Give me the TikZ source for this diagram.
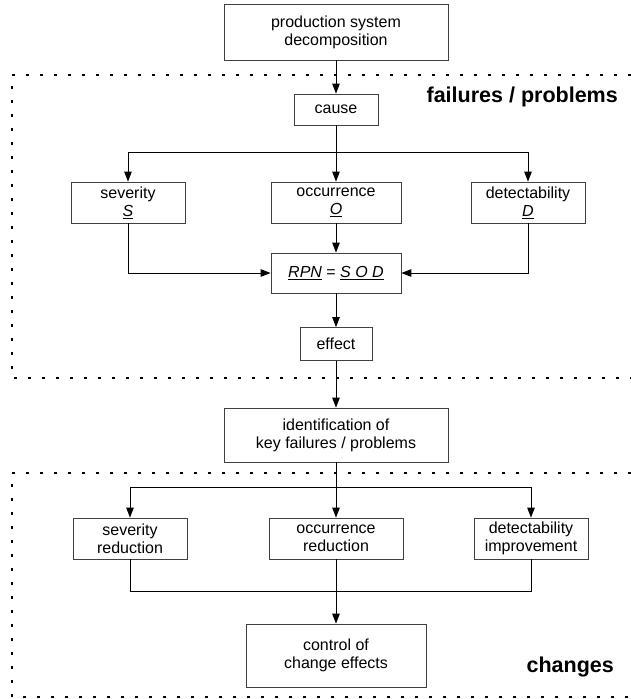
\documentclass[tikz,border=0pt]{standalone}
\usepackage{fontspec}
\setmainfont{Liberation Sans}
\usetikzlibrary{arrows.meta}
\tikzset{
  box/.style={draw=black!75, line width=0.8pt, fill=white, align=center, inner sep=0pt,
    font=\fontsize{16}{18}\selectfont},
  conn/.style={line width=1pt, draw=black},
  arr/.style={conn, -{Triangle[length=10pt,width=7.5pt]}},
  dots/.style={line width=2.8pt, draw=black, dash pattern=on 2.8pt off 11.2pt},
  lbl/.style={font=\fontsize{21.5}{23}\selectfont\bfseries, inner sep=0pt}
}
\begin{document}
\begin{tikzpicture}[x=1pt,y=1pt]
\useasboundingbox (0,0) rectangle (630,-699);
% dotted frames
\draw[dots] (631,-75) -- (12,-75) -- (12,-378) -- (631,-378);
\draw[dots] (631,-473) -- (12,-473) -- (12,-697) -- (631,-697);
% labels
\node[lbl, anchor=base east] (lf) at (618,-102) {failures / problems};
\node[lbl, anchor=base east] (lc) at (614,-672) {changes};
% nodes
\node[box, minimum width=224, minimum height=56] (prod) at (336,-32) {production system\\decomposition};
\node[box, minimum width=84, minimum height=31] (cause) at (336,-109.5) {cause};
\node[box, minimum width=114, minimum height=41] (S) at (128,-202.5) {severity\\\underline{\textit{S}}};
\node[box, minimum width=130, minimum height=41] (O) at (336,-202.5) {occurrence\\\underline{\textit{O}}};
\node[box, minimum width=114, minimum height=41] (D) at (528,-202.5) {detectability\\\underline{\textit{D}}};
\node[box, minimum width=130, minimum height=40] (rpn) at (336,-273) {\underline{\textit{RPN}} = \underline{\textit{S O D}}};
\node[box, minimum width=72, minimum height=33] (eff) at (336,-344) {effect};
\node[box, minimum width=224, minimum height=54] (ident) at (336,-435) {identification of\\key failures / problems};
\node[box, minimum width=114, minimum height=41] (sr) at (130,-538.5) {severity\\reduction};
\node[box, minimum width=134, minimum height=41] (orr) at (336,-538.5) {occurrence\\reduction};
\node[box, minimum width=114, minimum height=41] (di) at (531,-538.5) {detectability\\improvement};
\node[box, minimum width=180, minimum height=63] (ctrl) at (336,-655.5) {control of\\change effects};
% branch coordinates
\coordinate (b1) at (336,-152);
\coordinate (b2) at (336,-487);
\coordinate (m1) at (336,-591);
% connectors
\draw[arr] (prod) -- (cause);
\draw[conn] (cause.south) -- (b1);
\draw[arr] (b1) -| (S.north);
\draw[arr] (b1) -- (O.north);
\draw[arr] (b1) -| (D.north);
\draw[arr] (S.south) |- (rpn.west);
\draw[arr] (D.south) |- (rpn.east);
\draw[arr] (O.south) -- (rpn.north);
\draw[arr] (rpn.south) -- (eff.north);
\draw[arr] (eff.south) -- (ident.north);
\draw[conn] (ident.south) -- (b2);
\draw[arr] (b2) -| (sr.north);
\draw[arr] (b2) -- (orr.north);
\draw[arr] (b2) -| (di.north);
\draw[conn] (sr.south) |- (m1);
\draw[conn] (di.south) |- (m1);
\draw[arr] (orr.south) -- (ctrl.north);
\end{tikzpicture}
\end{document}
